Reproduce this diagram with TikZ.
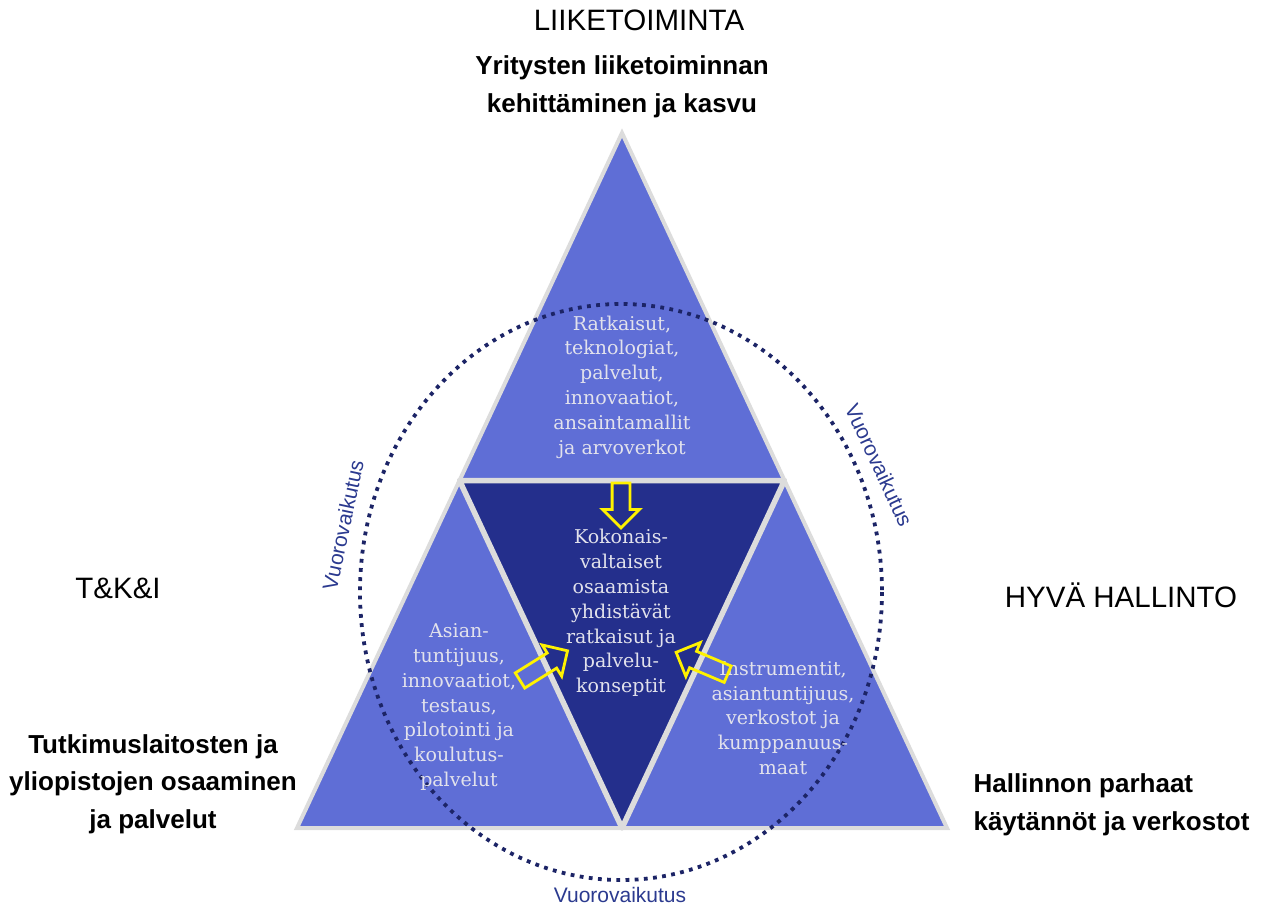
\documentclass[tikz,border=0pt]{standalone}
\usepackage{fontspec}
\setmainfont{DejaVu Serif}
\newfontfamily\sansfont{Liberation Sans}
\usetikzlibrary{calc,shapes.arrows}

\definecolor{lightblue}{HTML}{5F6ED6}
\definecolor{darkblue}{HTML}{242F8C}
\definecolor{edgegray}{HTML}{DCDCDC}
\definecolor{dotnavy}{HTML}{1C2466}
\definecolor{labelnavy}{HTML}{2B3A8F}
\definecolor{innertext}{HTML}{E2E2EC}

\tikzset{
    inner/.style={align=center, text=innertext, font=\fontsize{19}{24.8}\selectfont},
    heading/.style={font=\sansfont\fontsize{29.5}{34}\selectfont},
    caption/.style={font=\sansfont\bfseries\fontsize{26}{37.5}\selectfont},
    swap/.style={font=\sansfont\fontsize{21}{24}\selectfont, text=labelnavy},
    yarrow/.style={single arrow, draw=yellow, line width=2.8pt, inner xsep=0pt,
        inner ysep=7.5pt, minimum width=0pt, single arrow head extend=9.5pt}
}

\begin{document}
\begin{tikzpicture}[x=1pt,y=-1pt]
    \useasboundingbox (0,0) rectangle (1263,910);

        % corners of the triangles
        \coordinate (apex) at (622,133);
        \coordinate (bl) at (297,828);
        \coordinate (br) at (947,828);
        \coordinate (ml) at ($(apex)!0.5!(bl)$);
        \coordinate (mr) at ($(apex)!0.5!(br)$);
        \coordinate (mb) at ($(bl)!0.5!(br)$);

        \filldraw[fill=lightblue, draw=edgegray, line width=4pt] (apex) -- (bl) -- (br) -- cycle;
        \filldraw[fill=darkblue, draw=edgegray, line width=5.5pt, line join=round] (ml) -- (mr) -- (mb) -- cycle;

        % interaction ring
        \draw[dotnavy, line width=3.8pt, dash pattern=on 3.8pt off 5.4pt] (621,592) ellipse [x radius=261, y radius=288];

        \begin{scope}[every node/.style={inner}]
            \node (top) at (622,387) {Ratkaisut,\\teknologiat,\\palvelut,\\innovaatiot,\\ansaintamallit\\ja arvoverkot};
            \node (core) at (621,613) {Kokonais-\\valtaiset\\osaamista\\yhdistävät\\ratkaisut ja\\palvelu-\\konseptit};
            \node (left) at (459,707) {Asian-\\tuntijuus,\\innovaatiot,\\testaus,\\pilotointi ja\\koulutus-\\palvelut};
            \node (right) at (783,718) {Instrumentit,\\asiantuntijuus,\\verkostot ja\\kumppanuus-\\maat};
        \end{scope}

        \begin{scope}[every node/.style={yarrow}]
            \node[minimum height=45pt, rotate=-90] (adown) at (621,501) {};
            \node[minimum height=56pt, rotate=32] (aleft) at (540,668) {};
            \node[minimum height=56pt, rotate=157] (aright) at (706,665) {};
        \end{scope}

        \node[heading] (biz) at (639,20) {LIIKETOIMINTA};
        \node[heading] (rdi) at (118,588) {T\&K\&I};
        \node[heading] (gov) at (1121,595) {HYVÄ HALLINTO};

        \node[caption, align=center] (bizcap) at (622,87) {Yritysten liiketoiminnan\\kehittäminen ja kasvu};
        \node[caption, align=center] (rdicap) at (153,784) {Tutkimuslaitosten ja\\yliopistojen osaaminen\\ja palvelut};
        \node[caption, align=left, anchor=west] (govcap) at (970,805) {Hallinnon parhaat\\käytännöt ja verkostot};

        \node[swap] (swapbottom) at (620,895) {Vuorovaikutus};
        \node[swap, rotate=78] (swapleft) at (343,525) {Vuorovaikutus};
        \node[swap, rotate=-65] (swapright) at (879,465) {Vuorovaikutus};

    \end{tikzpicture}
\end{document}
